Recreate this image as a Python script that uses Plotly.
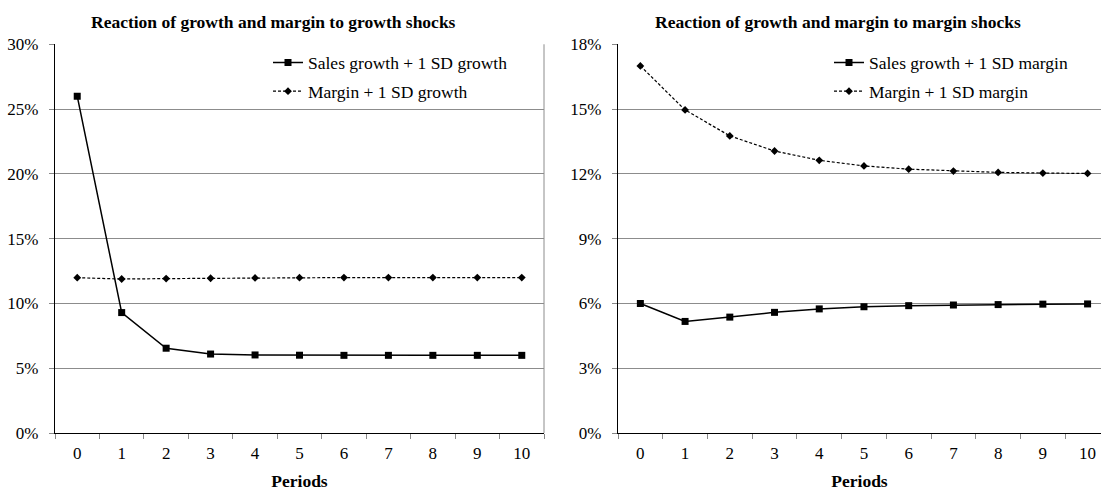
import plotly.graph_objects as go

periods = [str(i) for i in range(11)]

# Left panel: reaction to growth shocks
sales_growth_gshock = [0.260, 0.093, 0.0655, 0.061, 0.0603, 0.0601, 0.060, 0.060, 0.060, 0.060, 0.060]
margin_gshock = [0.1199, 0.1189, 0.1192, 0.1195, 0.1197, 0.1199, 0.120, 0.120, 0.120, 0.120, 0.120]

# Right panel: reaction to margin shocks
sales_growth_mshock = [0.060, 0.0517, 0.0537, 0.0559, 0.0575, 0.0585, 0.0590, 0.0593, 0.0595, 0.0597, 0.0598]
margin_mshock = [0.170, 0.1496, 0.1376, 0.1306, 0.1263, 0.1237, 0.1222, 0.1213, 0.1207, 0.1204, 0.1202]

left_ticks = [0, 0.05, 0.10, 0.15, 0.20, 0.25, 0.30]
right_ticks = [0, 0.03, 0.06, 0.09, 0.12, 0.15, 0.18]

W, H = 1101, 496
FONT = "Liberation Serif"
FS = 17.5
TFS = 17

def px_x(p):
    return p / W

def px_y(p):
    return 1 - p / H

fig = go.Figure()

solid = dict(color="black", width=1.5)
dashed = dict(color="black", width=1.2, dash="3px,2px")

fig.add_trace(go.Scatter(x=periods, y=sales_growth_gshock, name="Sales growth + 1 SD growth",
                         mode="lines+markers", line=solid,
                         marker=dict(symbol="square", size=7, color="black"),
                         xaxis="x", yaxis="y", legend="legend", legendgroup="a"))
fig.add_trace(go.Scatter(x=periods, y=margin_gshock, name="Margin + 1 SD growth",
                         mode="lines+markers", line=dashed,
                         marker=dict(symbol="diamond", size=6, color="black"),
                         xaxis="x", yaxis="y", legend="legend", legendgroup="b"))
fig.add_trace(go.Scatter(x=periods, y=sales_growth_mshock, name="Sales growth + 1 SD margin",
                         mode="lines+markers", line=solid,
                         marker=dict(symbol="square", size=7, color="black"),
                         xaxis="x2", yaxis="y2", legend="legend2", legendgroup="c"))
fig.add_trace(go.Scatter(x=periods, y=margin_mshock, name="Margin + 1 SD margin",
                         mode="lines+markers", line=dashed,
                         marker=dict(symbol="diamond", size=6, color="black"),
                         xaxis="x2", yaxis="y2", legend="legend2", legendgroup="d"))

ydom = [px_y(441), px_y(36.7)]

xcommon = dict(type="category", tickson="boundaries", ticks="outside", ticklen=5,
               tickcolor="#888888", showline=True, linecolor="black", linewidth=1.3,
               showgrid=False, zeroline=False,
               tickfont=dict(family=FONT, size=TFS, color="black"), ticklabelstandoff=4,
               title=dict(text="<b>Periods</b>", font=dict(family=FONT, size=FS, color="black"),
                          standoff=13),
               fixedrange=True)
ycommon = dict(tickformat=".0%", ticks="outside", ticklen=5, tickcolor="#888888",
               showline=True, linecolor="black", linewidth=1.3,
               showgrid=True, gridcolor="#8c8c8c", gridwidth=1, zeroline=False,
               tickfont=dict(family=FONT, size=TFS, color="black"), ticklabelstandoff=7,
               fixedrange=True)

legend_common = dict(xanchor="left", yanchor="top", bgcolor="rgba(0,0,0,0)",
                     tracegroupgap=3, font=dict(family=FONT, size=FS, color="black"))

fig.update_layout(
    width=W, height=H,
    margin=dict(l=0, r=0, t=0, b=0),
    paper_bgcolor="white", plot_bgcolor="white",
    font=dict(family=FONT, size=FS, color="black"),
    xaxis=dict(domain=[px_x(55), px_x(544)], range=[-0.5, 10.5], anchor="y", **xcommon),
    yaxis=dict(domain=ydom, range=[0, 0.30], tickvals=left_ticks, anchor="x", **ycommon),
    xaxis2=dict(domain=[px_x(618), 1.0], range=[-0.5, 10.3], anchor="y2", **xcommon),
    yaxis2=dict(domain=ydom, range=[0, 0.18], tickvals=right_ticks, anchor="x2", **ycommon),
    legend=dict(x=px_x(268), y=px_y(37), **legend_common),
    legend2=dict(x=px_x(829), y=px_y(37), **legend_common),
    showlegend=True,
    annotations=[
        dict(text="<b>Reaction of growth and margin to growth shocks</b>", x=px_x(273), y=px_y(13),
             xref="paper", yref="paper", xanchor="center", yanchor="middle", showarrow=False,
             font=dict(family=FONT, size=FS, color="black")),
        dict(text="<b>Reaction of growth and margin to margin shocks</b>", x=px_x(838), y=px_y(13),
             xref="paper", yref="paper", xanchor="center", yanchor="middle", showarrow=False,
             font=dict(family=FONT, size=FS, color="black")),
    ],
    shapes=[
        dict(type="line", xref="x domain", yref="y domain", x0=1, x1=1, y0=0, y1=1,
             line=dict(color="#8c8c8c", width=1)),
    ],
)

css_fix = (
    "var h=document.documentElement,b=document.body;"
    "h.style.margin='0';h.style.padding='0';h.style.overflow='hidden';"
    "b.style.margin='0';b.style.padding='0';b.style.overflow='hidden';"
)

fig.write_html("out.html", config={"displayModeBar": False, "responsive": False},
               post_script=css_fix)
